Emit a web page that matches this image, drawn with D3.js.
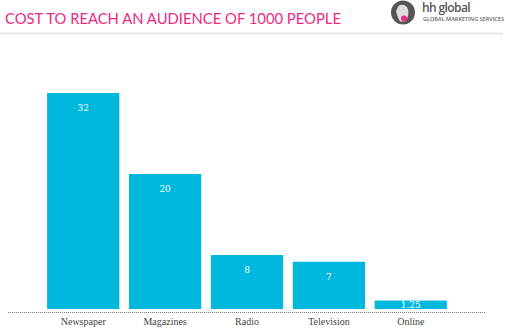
<!DOCTYPE html>
<html>
<head>
<meta charset="utf-8">
<script src="https://cdn.jsdelivr.net/npm/d3@7"></script>
<style>
  body { margin: 0; background: #fff; }
  svg { display: block; }
</style>
</head>
<body>
<svg width="505" height="328"></svg>
<script>
const width = 505
const height = 328
const svg = d3.select('svg')

const categories = ['Newspaper', 'Magazines', 'Radio', 'Television', 'Online']
const costs = [32, 20, 8, 7, 1.25]
const valueLabels = ['32', '20', '8', '7', '1.25']
const title = 'COST TO REACH AN AUDIENCE OF 1000 PEOPLE'

const barColor = '#00b7de'
const pink = '#ec2a84'

// header
svg.append('text')
  .attr('x', 5)
  .attr('y', 24)
  .attr('font-family', 'Lato, sans-serif')
  .attr('font-weight', 400)
  .attr('font-size', 16)
  .attr('textLength', 336)
  .attr('lengthAdjust', 'spacingAndGlyphs')
  .attr('fill', pink)
  .text(title)

svg.append('rect')
  .attr('x', 0)
  .attr('y', 32.5)
  .attr('width', 503)
  .attr('height', 2)
  .attr('fill', '#e6e6e6')

// logo
const logo = svg.append('g').attr('transform', 'translate(403,12.5)')
logo.append('circle').attr('r', 12).attr('fill', '#555')
logo.append('path')
  .attr('d', 'M-5,-6 C-2,-9 4,-8 5,-3 C6,1 5,6 2,9 L-3,9 C-5,6 -6,2 -7,-1 Z')
  .attr('fill', '#ddd')
logo.append('circle').attr('cx', 1).attr('cy', 6).attr('r', 3).attr('fill', pink)

svg.append('text')
  .attr('x', 422)
  .attr('y', 12)
  .attr('font-family', '"Open Sans", sans-serif')
  .attr('font-weight', 600)
  .attr('font-size', 12)
  .attr('letter-spacing', -0.6)
  .attr('fill', '#555')
  .text('hh global')

svg.append('text')
  .attr('x', 423)
  .attr('y', 21)
  .attr('font-family', '"Open Sans", sans-serif')
  .attr('font-weight', 600)
  .attr('font-size', 5)
  .attr('textLength', 81)
  .attr('lengthAdjust', 'spacingAndGlyphs')
  .attr('fill', '#666')
  .text('GLOBAL MARKETING SERVICES')

// chart
const x = d3.scaleBand()
  .domain(categories)
  .range([43, 451])
  .paddingInner(0.118)
  .paddingOuter(0.05)

const y = d3.scaleLinear()
  .domain([0, 32])
  .range([309, 93])

svg.append('g')
  .selectAll('rect')
  .data(categories)
  .join('rect')
  .attr('x', d => x(d))
  .attr('y', (d, i) => y(costs[i]))
  .attr('width', x.bandwidth())
  .attr('height', (d, i) => y(0) - y(costs[i]))
  .attr('fill', barColor)

svg.append('g')
  .selectAll('text')
  .data(categories)
  .join('text')
  .attr('x', d => x(d) + x.bandwidth() / 2)
  .attr('y', (d, i) => Math.min(y(costs[i]) + 18, 308))
  .attr('text-anchor', 'middle')
  .attr('font-family', '"DejaVu Serif", serif')
  .attr('font-size', 9)
  .attr('fill', '#fff')
  .text((d, i) => valueLabels[i])

// dotted baseline
svg.append('line')
  .attr('x1', 8)
  .attr('x2', 485)
  .attr('y1', 312.5)
  .attr('y2', 312.5)
  .attr('stroke', '#777')
  .attr('stroke-width', 1)
  .attr('stroke-dasharray', '1,1')

const xAxis = svg.append('g')
  .attr('transform', 'translate(0,312)')
  .call(d3.axisBottom(x).tickSize(0).tickPadding(6))
xAxis.select('.domain').remove()
xAxis.selectAll('text')
  .attr('font-family', '"Liberation Serif", serif')
  .attr('font-size', 10)
  .attr('fill', '#444')
</script>
</body>
</html>
